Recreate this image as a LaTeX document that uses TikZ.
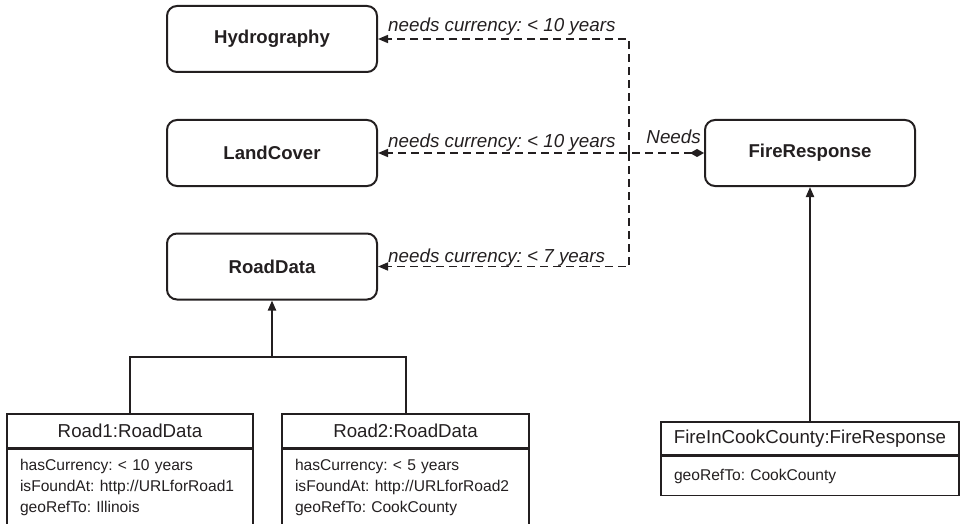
\documentclass[tikz,border=0pt]{standalone}
\usepackage{fontspec}
\setmainfont{Liberation Sans}
\usetikzlibrary{arrows.meta}
\definecolor{ink}{RGB}{35,31,32}
\frenchspacing
\begin{document}
\begin{tikzpicture}[x=1pt,y=-1pt,
  every node/.style={text=ink},
  classbox/.style={draw=ink, line width=2pt, rounded corners=10pt,
    minimum width=210pt, minimum height=66pt, inner sep=0pt,
    font=\bfseries\fontsize{18.6}{22}\selectfont},
  objhead/.style={draw=ink, line width=1.5pt, inner sep=0pt,
    font=\fontsize{18.7}{22}\selectfont},
  objbody/.style={draw=ink, line width=1.5pt, anchor=north, align=left,
    inner xsep=13pt, inner ysep=0pt, font=\fontsize{15.6}{21}\selectfont},
  lbl/.style={inner sep=0pt, font=\itshape\fontsize{18.8}{22}\selectfont},
  dep/.style={draw=ink, line width=1.5pt, dash pattern=on 8pt off 5pt},
  conn/.style={draw=ink, line width=2pt},
  tip/.style={-{Triangle[length=10pt,width=8pt]}},
  diamondtip/.style={{Diamond[length=14pt,width=8pt]}-{Triangle[length=10pt,width=8pt]}}
]
\useasboundingbox (0,0) rectangle (961,524);

% data classes
\node[classbox] (hydro) at (272,39) {Hydrography};
\node[classbox] (land)  at (272,153) {LandCover};
\node[classbox] (road)  at (272,266.5) {RoadData};
\node[classbox] (fire)  at (810,153) {FireResponse};

% currency requirements of FireResponse
\coordinate (j2) at (629,153);
\draw[dep,diamondtip] (fire.west) -- (land.east);
\draw[dep,tip] (j2) |- (hydro.east);
\draw[dep,tip] (j2) |- (road.east);

\node[lbl, anchor=base west] (l1) at (388,32)  {needs currency: < 10 years};
\node[lbl, anchor=base west] (l2) at (388,148) {needs currency: < 10 years};
\node[lbl, anchor=base west] (l3) at (388,262) {needs currency: < 7 years};
\node[lbl, anchor=base east] (ln) at (701,143) {Needs};

% instances
\node[objhead, minimum width=246pt, minimum height=34pt] (r1) at (130,431) {Road1:RoadData};
\node[objbody, minimum width=246pt, minimum height=75pt, text width=220pt] (r1b) at (r1.south)
  {hasCurrency: < 10 years\\isFoundAt: http://URLforRoad1\\geoRefTo: Illinois};

\node[objhead, minimum width=247pt, minimum height=34pt] (r2) at (405.5,431) {Road2:RoadData};
\node[objbody, minimum width=247pt, minimum height=75pt, text width=221pt] (r2b) at (r2.south)
  {hasCurrency: < 5 years\\isFoundAt: http://URLforRoad2\\geoRefTo: CookCounty};

\node[objhead, minimum width=298pt, minimum height=33pt] (fi) at (810,438.5) {FireInCookCounty:FireResponse};
\node[objbody, minimum width=298pt, minimum height=39pt, text width=272pt] (fib) at (fi.south)
  {geoRefTo: CookCounty};

% instance-of links
\coordinate (split) at (272,357);
\draw[conn] (r1.north) |- (split) -| (r2.north);
\draw[conn,tip] (split) -- (road.south);
\draw[conn,tip] (fi.north) -- (fire.south);
\end{tikzpicture}
\end{document}
